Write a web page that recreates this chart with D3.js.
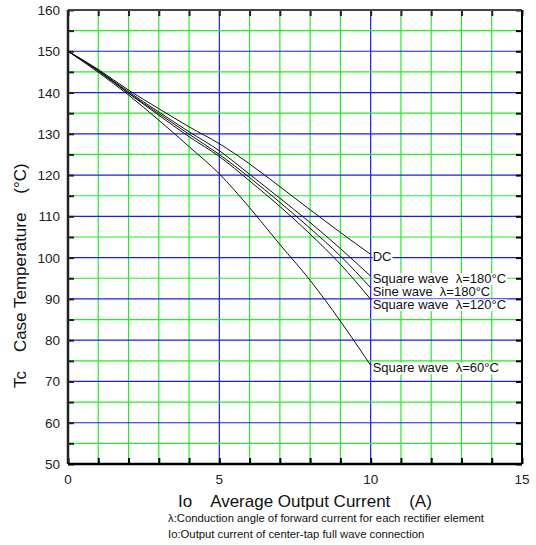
<!DOCTYPE html>
<html>
<head>
<meta charset="utf-8">
<script src="https://cdn.jsdelivr.net/npm/d3@7"></script>
<style>
  body { margin: 0; background: #fff; }
  text { font-family: "Liberation Sans", Arial, sans-serif; }
</style>
</head>
<body>
<svg id="chart" width="536" height="545"></svg>
<script>
// derating curves: case temperature vs average output current
var current = [0, 1, 2, 3, 4, 5, 6, 7, 8, 9, 10];
var dcTemp = [150, 145.6, 140.6, 136.1, 131.7, 127.6, 122.7, 117.2, 111.6, 106.1, 100.8];
var sq180Temp = [150, 145.4, 140.2, 135.3, 130.5, 125.9, 120.2, 114.4, 108.5, 102.2, 95.5];
var sine180Temp = [150, 145.3, 139.9, 134.9, 129.9, 125.0, 119.4, 113.4, 107.1, 100.4, 92.7];
var sq120Temp = [150, 145.2, 139.8, 134.5, 129.3, 124.5, 118.6, 112.4, 105.7, 98.4, 89.9];
var sq60Temp = [150, 144.9, 139.4, 133.3, 126.9, 120.3, 112.1, 103.2, 94.5, 84.6, 73.9];
var seriesNames = ["DC", "Square wave  \u03bb=180\u00b0C", "Sine wave  \u03bb=180\u00b0C", "Square wave  \u03bb=120\u00b0C", "Square wave  \u03bb=60\u00b0C"];
var xTicks = [0, 5, 10, 15];
var yTicks = [50, 60, 70, 80, 90, 100, 110, 120, 130, 140, 150, 160];

var series = [dcTemp, sq180Temp, sine180Temp, sq120Temp, sq60Temp];

var svg = d3.select("#chart");
var plotLeft = 68, plotRight = 522, plotTop = 10, plotBottom = 464;

var xScale = d3.scaleLinear().domain([0, 15]).range([plotLeft, plotRight]);
var yScale = d3.scaleLinear().domain([50, 160]).range([plotBottom, plotTop]);

// grid: green every 1A / 5 degC, blue on the major values
var grid = svg.append("g");
d3.range(1, 15).forEach(function(v){
    grid.append("line")
        .attr("x1", xScale(v)).attr("x2", xScale(v))
        .attr("y1", plotTop).attr("y2", plotBottom)
        .style("stroke", v % 5 == 0 ? "#1a1aff" : "#22f022")
        .style("stroke-width", 1.2);
});
d3.range(55, 160, 5).forEach(function(v){
    grid.append("line")
        .attr("x1", plotLeft).attr("x2", plotRight)
        .attr("y1", yScale(v)).attr("y2", yScale(v))
        .style("stroke", v % 10 == 0 ? "#1a1aff" : "#22f022")
        .style("stroke-width", 1.2);
});

// axes with inward ticks
var minorX = d3.range(0, 16);
var minorY = d3.range(50, 161, 5);

svg.append("g")
    .attr("transform", "translate(0," + plotBottom + ")")
    .call(d3.axisBottom(xScale).tickValues(minorX).tickSize(-6).tickFormat(""))
    .call(function(g){ g.select(".domain").remove(); })
    .selectAll("line").style("stroke", "#000").style("stroke-width", 2);

svg.append("g")
    .attr("transform", "translate(0," + plotTop + ")")
    .call(d3.axisTop(xScale).tickValues(minorX).tickSize(-6).tickFormat(""))
    .call(function(g){ g.select(".domain").remove(); })
    .selectAll("line").style("stroke", "#222").style("stroke-width", 2);

svg.append("g")
    .attr("transform", "translate(" + plotLeft + ",0)")
    .call(d3.axisLeft(yScale).tickValues(minorY).tickSize(-6).tickFormat(""))
    .call(function(g){ g.select(".domain").remove(); })
    .selectAll("line").style("stroke", "#222").style("stroke-width", 2);

svg.append("g")
    .attr("transform", "translate(" + plotRight + ",0)")
    .call(d3.axisRight(yScale).tickValues(minorY).tickSize(-6).tickFormat(""))
    .call(function(g){ g.select(".domain").remove(); })
    .selectAll("line").style("stroke", "#000").style("stroke-width", 2);

// frame
svg.append("line").attr("x1", plotLeft).attr("x2", plotRight).attr("y1", plotTop).attr("y2", plotTop)
    .style("stroke", "#444").style("stroke-width", 2);
svg.append("line").attr("x1", plotRight).attr("x2", plotRight).attr("y1", plotTop).attr("y2", plotBottom)
    .style("stroke", "#000").style("stroke-width", 2);
svg.append("line").attr("x1", plotLeft).attr("x2", plotLeft).attr("y1", plotTop).attr("y2", plotBottom)
    .style("stroke", "#222").style("stroke-width", 2.5);
svg.append("line").attr("x1", plotLeft).attr("x2", plotRight).attr("y1", plotBottom).attr("y2", plotBottom)
    .style("stroke", "#000").style("stroke-width", 2.5);

// tick labels
svg.selectAll(".xlab").data(xTicks).enter().append("text")
    .attr("x", function(d){ return xScale(d); })
    .attr("y", plotBottom + 20)
    .style("text-anchor", "middle")
    .style("font-size", "13.5px")
    .style("fill", "#222")
    .text(function(d){ return d; });

svg.selectAll(".ylab").data(yTicks).enter().append("text")
    .attr("x", plotLeft - 8)
    .attr("y", function(d){ return yScale(d) + 5; })
    .style("text-anchor", "end")
    .style("font-size", "13.5px")
    .style("fill", "#222")
    .text(function(d){ return d; });

// curves
var line = d3.line()
    .x(function(d, i){ return xScale(current[i]); })
    .y(function(d){ return yScale(d); })
    .curve(d3.curveMonotoneX);

series.forEach(function(s){
    svg.append("path")
        .attr("d", line(s))
        .style("fill", "none")
        .style("stroke", "#111")
        .style("stroke-width", 1);
});

// curve labels at the end of each curve, kept from overlapping
var lastY = -100;
series.forEach(function(s, i){
    var ly = yScale(s[s.length - 1]) + 2;
    if (ly - lastY < 13) ly = lastY + 13;
    lastY = ly;
    var g = svg.append("g");
    var bg = g.append("rect").style("fill", "#fff");
    var t = g.append("text")
        .attr("x", xScale(10) + 2)
        .attr("y", ly + 5)
        .style("font-size", "13px")
        .style("fill", "#111")
        .style("white-space", "pre")
        .text(seriesNames[i]);
    var b = t.node().getBBox();
    bg.attr("x", b.x).attr("y", b.y + 2)
        .attr("width", b.width + 1).attr("height", b.height - 3);
});

// axis titles
svg.append("text")
    .attr("x", 178).attr("y", 507)
    .style("font-size", "17px")
    .style("fill", "#111")
    .style("white-space", "pre")
    .text("Io    Average Output Current    (A)");

svg.append("text")
    .attr("transform", "translate(26,388) rotate(-90)")
    .style("font-size", "17px")
    .style("fill", "#111")
    .style("white-space", "pre")
    .text("Tc    Case Temperature    (\u00b0C)");

svg.append("text")
    .attr("x", 168).attr("y", 522)
    .style("font-size", "11.3px")
    .style("fill", "#111")
    .text("\u03bb:Conduction angle of forward current for each rectifier element");

svg.append("text")
    .attr("x", 168).attr("y", 538)
    .style("font-size", "11.3px")
    .style("fill", "#111")
    .text("Io:Output current of center-tap full wave connection");
</script>
</body>
</html>
